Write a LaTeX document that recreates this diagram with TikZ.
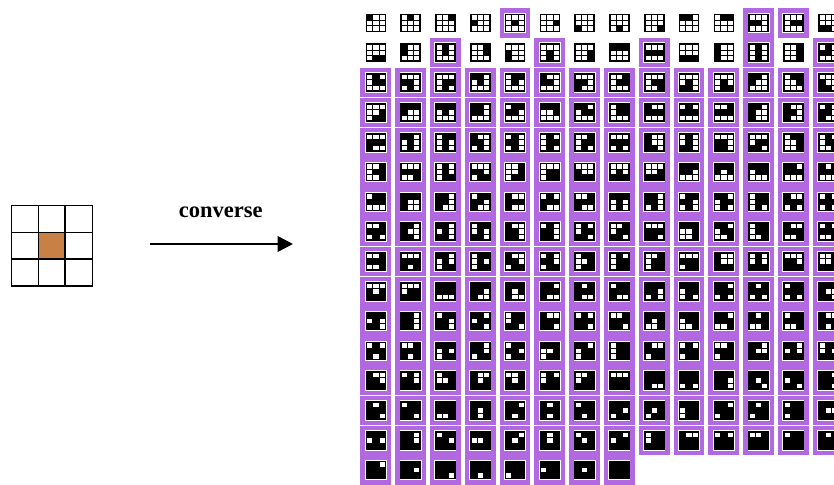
\documentclass[tikz,border=0pt]{standalone}
\usepackage{fontspec}
\setmainfont{Liberation Serif}
\usetikzlibrary{arrows.meta}
\definecolor{framepurple}{RGB}{178,104,224}
\definecolor{cellorange}{RGB}{201,128,68}

% ---------- enumerate the connected subsets of a 3x3 grid (sizes 4..7) ----------
\newcount\ccMask \newcount\ccT \newcount\ccQ \newcount\ccPop \newcount\ccReach
\def\mkcounts#1{\expandafter\newcount\csname cellb#1\endcsname
  \expandafter\newcount\csname cellr#1\endcsname}
\mkcounts0 \mkcounts1 \mkcounts2 \mkcounts3 \mkcounts4 \mkcounts5 \mkcounts6 \mkcounts7 \mkcounts8
\def\cellB#1{\csname cellb#1\endcsname}
\def\cellR#1{\csname cellr#1\endcsname}
\def\ccExtract#1{\ccQ=\ccT \divide\ccQ 2 \multiply\ccQ 2 \cellB{#1}=\ccT \advance\cellB{#1}-\ccQ \advance\ccPop\cellB{#1}\divide\ccT 2 }
\def\ccUpd#1#2{\ifnum\cellB{#1}=1 \ifnum\numexpr#2\relax>0 \cellR{#1}=1 \fi\fi}
\def\ccSweep{%
 \ccUpd0{\cellR1+\cellR3}%
 \ccUpd1{\cellR0+\cellR2+\cellR4}%
 \ccUpd2{\cellR1+\cellR5}%
 \ccUpd3{\cellR0+\cellR4+\cellR6}%
 \ccUpd4{\cellR1+\cellR3+\cellR5+\cellR7}%
 \ccUpd5{\cellR2+\cellR4+\cellR8}%
 \ccUpd6{\cellR3+\cellR7}%
 \ccUpd7{\cellR4+\cellR6+\cellR8}%
 \ccUpd8{\cellR5+\cellR7}}
\def\ccSeed{%
 \ifnum\cellB0=1 \cellR0=1 \else
 \ifnum\cellB1=1 \cellR1=1 \else
 \ifnum\cellB2=1 \cellR2=1 \else
 \ifnum\cellB3=1 \cellR3=1 \else
 \ifnum\cellB4=1 \cellR4=1 \else
 \ifnum\cellB5=1 \cellR5=1 \else
 \ifnum\cellB6=1 \cellR6=1 \else
 \ifnum\cellB7=1 \cellR7=1 \else
 \cellR8=1 \fi\fi\fi\fi\fi\fi\fi\fi}
\def\ccCheck{%
  \cellR0=0 \cellR1=0 \cellR2=0 \cellR3=0 \cellR4=0 \cellR5=0 \cellR6=0 \cellR7=0 \cellR8=0
  \ccSeed
  \ccSweep\ccSweep\ccSweep\ccSweep\ccSweep\ccSweep\ccSweep\ccSweep
  \ccReach=\numexpr\cellR0+\cellR1+\cellR2+\cellR3+\cellR4+\cellR5+\cellR6+\cellR7+\cellR8\relax
  \ifnum\ccReach=\ccPop
    \edef\ccStr{\the\cellB0\the\cellB1\the\cellB2\the\cellB3\the\cellB4\the\cellB5\the\cellB6\the\cellB7\the\cellB8}%
    \expandafter\edef\csname plist\the\ccPop\endcsname{\csname plist\the\ccPop\endcsname\ccStr,}%
  \fi}
\expandafter\def\csname plist4\endcsname{}
\expandafter\def\csname plist5\endcsname{}
\expandafter\def\csname plist6\endcsname{}
\expandafter\def\csname plist7\endcsname{}
\ccMask=1
\loop
  \ccT=\ccMask \ccPop=0
  \ccExtract0\ccExtract1\ccExtract2\ccExtract3\ccExtract4\ccExtract5\ccExtract6\ccExtract7\ccExtract8
  \ifnum\ccPop>3 \ifnum\ccPop<8 \ccCheck\fi\fi
  \advance\ccMask 1
\ifnum\ccMask<512 \repeat

\edef\allpatterns{%
100000000,010000000,001000000,000100000,000010000,000001000,000000100,000000010,000000001,%
110000000,011000000,000110000,000011000,000000110,000000011,%
100100000,010010000,001001000,000100100,000010010,000001001,%
111000000,000111000,000000111,100100100,010010010,001001001,%
010110000,010011000,000110010,000011010,110010000,011010000,100110000,000110100,%
001011000,000011001,000010110,000010011,110100000,011001000,000100110,000001011,%
\csname plist4\endcsname\csname plist5\endcsname\csname plist6\endcsname\csname plist7\endcsname
011111111,101111111,110111111,111110111,111111110,111111101,111111011,111011111,111101111,111111111}

% ---------- drawing one small pattern (19 x 17) ----------
\def\pcell#1#2#3{\ifnum#3=1 \fill[patcell] (\pcx-9.5+#1*6.3333,\pcy-8.5+#2*5.6667) rectangle ++(6.3333,5.6667);\fi}
\def\drawframe{\draw[hlframe] (\pcx-13.25,\pcy-12.5) rectangle (\pcx+13.25,\pcy+12.5);}
\def\drawpat#1#2#3#4#5#6#7#8#9\relax{%
  \pcell00{#1}\pcell10{#2}\pcell20{#3}%
  \pcell01{#4}\pcell11{#5}\pcell21{#6}%
  \pcell02{#7}\pcell12{#8}\pcell22{#9}%
  \draw[patgrid] (\pcx-3.1667,\pcy-8.5) -- (\pcx-3.1667,\pcy+8.5)
                 (\pcx+3.1667,\pcy-8.5) -- (\pcx+3.1667,\pcy+8.5)
                 (\pcx-9.5,\pcy-2.8333) -- (\pcx+9.5,\pcy-2.8333)
                 (\pcx-9.5,\pcy+2.8333) -- (\pcx+9.5,\pcy+2.8333);
  \draw[patborder] (\pcx-9.5,\pcy-8.5) rectangle (\pcx+9.5,\pcy+8.5);
  \ifnum\k>27 \drawframe\else\ifnum#5=1 \drawframe\fi\fi}

\tikzset{
  patcell/.style={fill=black},
  patgrid/.style={draw=black, line width=0.9pt},
  patborder/.style={draw=black, line width=1.6pt},
  hlframe/.style={draw=framepurple, line width=4.4pt},
  biggrid/.style={draw=black, line width=1.5pt},
  convarrow/.style={draw=black, line width=2.7pt, -{Triangle[length=15.5pt,width=15.5pt]}},
  convlabel/.style={font=\fontsize{22.5}{26}\selectfont\bfseries, inner sep=0pt, anchor=base},
}

\begin{document}
\begin{tikzpicture}[x=1pt,y=-1pt]
\clip (0,0) rectangle (834,484);
\fill[white] (0,0) rectangle (834,484);

% input 3x3 grid
\fill[cellorange] (38.4,232.4) rectangle (65.1,259.1);
\draw[biggrid] (11.7,205.7) rectangle (92.3,286.0);
\draw[biggrid] (38.4,205.7) -- (38.4,286.0) (65.1,205.7) -- (65.1,286.0)
               (11.7,232.4) -- (92.3,232.4) (11.7,259.1) -- (92.3,259.1);

% arrow and its label
\coordinate (arrS) at (150,244);
\coordinate (arrE) at (293,244);
\draw[convarrow] (arrS) -- (arrE);
\node[convlabel] (lbl) at (220.7,217.5) {converse};

% all connected patterns
\foreach \p [count=\k from 0] in \allpatterns {
  \pgfmathtruncatemacro\prow{div(\k,14)}
  \pgfmathtruncatemacro\pcol{mod(\k,14)}
  \pgfmathsetmacro\pcx{375.8+34.8*\pcol}
  \pgfmathsetmacro\pcy{23+29.8*\prow}
  \expandafter\drawpat\p\relax
}
\end{tikzpicture}
\end{document}
